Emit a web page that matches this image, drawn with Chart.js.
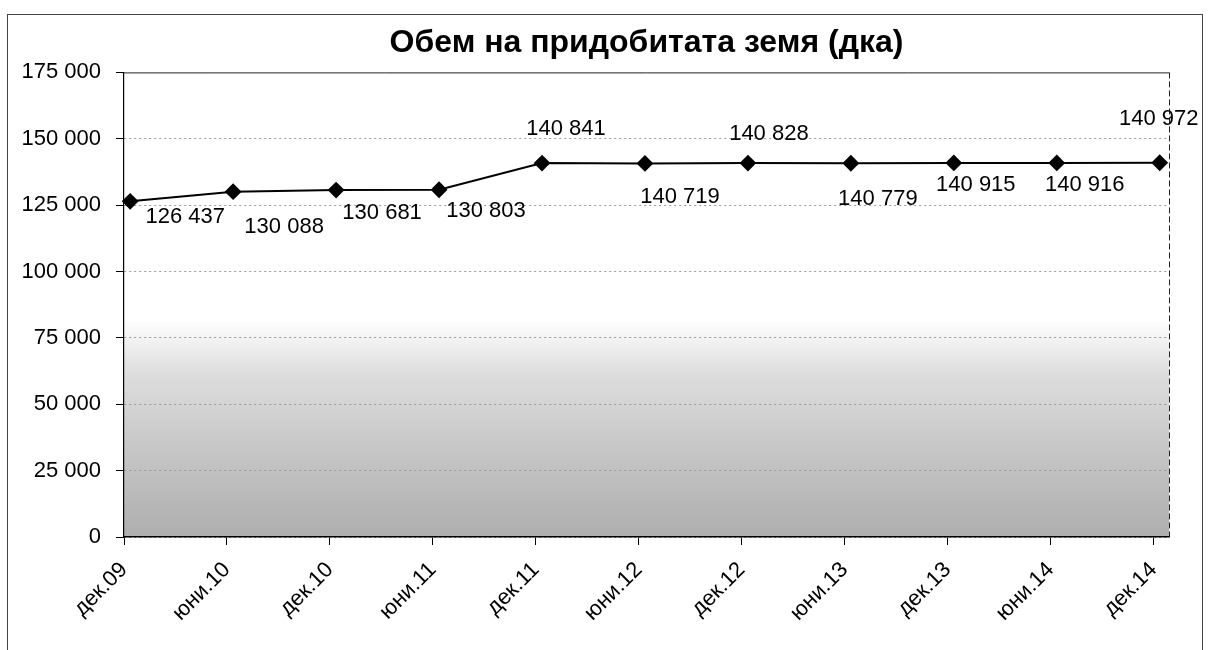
<!DOCTYPE html>
<html lang="bg">
<head>
<meta charset="UTF-8">
<title>Обем на придобитата земя (дка)</title>
<script src="https://cdn.jsdelivr.net/npm/chart.js@4.4.1/dist/chart.umd.min.js"></script>
<style>
  html, body { margin: 0; padding: 0; background: #fff; }
  #wrap { position: relative; width: 1210px; height: 650px; }
</style>
</head>
<body>
<div id="wrap"><canvas id="landChart"></canvas></div>
<script>
// periods on the x axis
const periods = ['дек.09', 'юни.10', 'дек.10', 'юни.11', 'дек.11', 'юни.12', 'дек.12', 'юни.13', 'дек.13', 'юни.14', 'дек.14'];
// acquired land, decares
const landVolume = [126437, 130088, 130681, 130803, 140841, 140719, 140828, 140779, 140915, 140916, 140972];
// y axis tick values
const yTicks = [0, 25000, 50000, 75000, 100000, 125000, 150000, 175000];

const FONT = "'Liberation Sans', Arial, sans-serif";
const fmt = v => String(v).replace(/\B(?=(\d{3})+(?!\d))/g, ' ');

// outer frame, grey shading of the scan and the plot border
const frame = {
    id: 'frame',
    beforeDraw(c) {
        const ctx = c.ctx, a = c.chartArea, y = c.scales.y;
        ctx.save();
        ctx.strokeStyle = '#444';
        ctx.lineWidth = 1;
        ctx.strokeRect(7.5, 14.5, 1195, 700);
        const top = y.getPixelForValue(82000);
        const g = ctx.createLinearGradient(0, top, 0, a.bottom);
        g.addColorStop(0, 'rgba(120,120,120,0)');
        g.addColorStop(0.25, 'rgba(120,120,120,0.25)');
        g.addColorStop(0.6, 'rgba(120,120,120,0.42)');
        g.addColorStop(1, 'rgba(120,120,120,0.6)');
        ctx.fillStyle = g;
        ctx.fillRect(a.left, top, a.right - a.left, a.bottom - top);
        ctx.restore();
    },
    beforeDatasetsDraw(c) {
        const ctx = c.ctx, a = c.chartArea;
        ctx.save();
        ctx.strokeStyle = '#222';
        ctx.lineWidth = 1;
        ctx.beginPath();
        ctx.moveTo(a.left, a.top + 0.5);
        ctx.lineTo(a.right, a.top + 0.5);
        ctx.stroke();
        ctx.setLineDash([6, 3]);
        ctx.beginPath();
        ctx.moveTo(a.right + 0.5, a.top);
        ctx.lineTo(a.right + 0.5, a.bottom);
        ctx.stroke();
        ctx.restore();
    }
};

// value labels next to every marker
const valueLabels = {
    id: 'valueLabels',
    afterDatasetsDraw(c, args, opts) {
        const ctx = c.ctx;
        const meta = c.getDatasetMeta(0);
        ctx.save();
        ctx.font = '22px ' + FONT;
        ctx.fillStyle = '#000';
        ctx.textAlign = 'center';
        ctx.textBaseline = 'middle';
        meta.data.forEach((pt, i) => {
            const s = opts.shift[i] || [0, -20];
            ctx.fillText(fmt(landVolume[i]), pt.x + s[0], pt.y + s[1]);
        });
        ctx.restore();
    }
};

new Chart(document.getElementById('landChart').getContext('2d'), {
    type: 'line',
    data: {
        datasets: [{
            label: 'Обем на придобитата земя (дка)',
            data: landVolume.map((v, i) => ({ x: i, y: v })),
            borderColor: '#000',
            borderWidth: 2,
            pointStyle: 'rectRot',
            pointRadius: 7,
            pointBackgroundColor: '#000',
            pointBorderColor: '#000',
            tension: 0,
            clip: false
        }]
    },
    options: {
        responsive: true,
        maintainAspectRatio: false,
        animation: false,
        layout: { padding: { left: 0, right: 41, top: 0, bottom: 0 } },
        plugins: {
            legend: { display: false },
            tooltip: { enabled: false },
            title: {
                display: true,
                fullSize: false,
                text: 'Обем на придобитата земя (дка)',
                color: '#000',
                font: { family: FONT, size: 32, weight: 'bold' },
                padding: { top: 24, bottom: 10 }
            },
            valueLabels: {
                shift: [[55, 16], [51, 35], [46, 23], [47, 21], [24, -34], [35, 34], [21, -29], [27, 36], [22, 22], [28, 22], [-1, -44]]
            }
        },
        scales: {
            x: {
                type: 'linear',
                min: -0.06,
                max: 10.09,
                afterBuildTicks: s => { s.ticks = periods.map((_, i) => ({ value: i - 0.06 })); },
                afterFit: s => { s.height = 113; },
                ticks: {
                    callback: (v, i) => periods[i],
                    autoSkip: false,
                    maxRotation: 45,
                    minRotation: 45,
                    padding: 12,
                    color: '#000',
                    font: { family: FONT, size: 22 }
                },
                grid: { drawOnChartArea: false, tickLength: 8, tickColor: '#000' },
                border: { color: '#000', width: 1.5 }
            },
            y: {
                min: 0,
                max: 175000,
                afterBuildTicks: s => { s.ticks = yTicks.map(v => ({ value: v })); },
                afterFit: s => { s.width = 124; },
                ticks: {
                    callback: v => fmt(v),
                    padding: 15,
                    color: '#000',
                    font: { family: FONT, size: 22 }
                },
                grid: {
                    color: c => (c.tick && c.tick.value === 175000) ? 'rgba(0,0,0,0)' : '#999',
                    tickLength: 8,
                    tickColor: '#000',
                    tickBorderDash: []
                },
                border: { color: '#000', width: 1.2, dash: [2, 3] }
            }
        }
    },
    plugins: [frame, valueLabels]
});
</script>
</body>
</html>
